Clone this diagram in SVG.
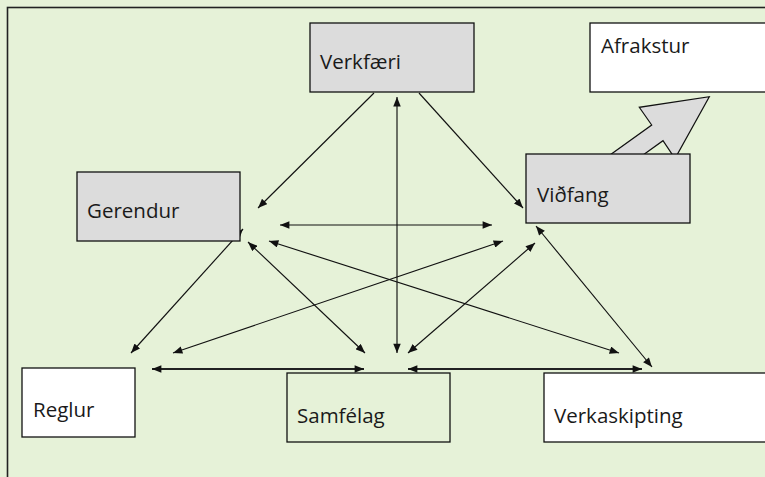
<svg xmlns="http://www.w3.org/2000/svg" width="765" height="477" viewBox="0 0 765 477">
<style>
.box{stroke:#111;stroke-width:1.3}
.gray{fill:#dcdcdc}
.white{fill:#ffffff}
.green{fill:#e6f2d8}
.lbl{font-family:"Open Sans","Noto Sans",sans-serif;font-size:20.5px;fill:#1a1a1a}
.c{stroke:#111;stroke-width:1.15;fill:none}
.b{stroke:#222;stroke-width:2;fill:none}
</style>
<defs>
<marker id="ah" viewBox="0 0 10 8" refX="10" refY="4" markerWidth="10" markerHeight="7.5" markerUnits="userSpaceOnUse" orient="auto-start-reverse">
<path d="M0,0 L10,4 L0,8 z" fill="#111"/>
</marker>
</defs>
<rect x="0" y="0" width="765" height="477" fill="#e6f2d8"/>
<rect x="7.5" y="7.5" width="800" height="500" fill="none" stroke="#222" stroke-width="1.6"/>
<g id="connectors">
<line class="c" x1="374" y1="93" x2="258" y2="208" marker-end="url(#ah)"/>
<line class="c" x1="419" y1="93" x2="523" y2="208" marker-end="url(#ah)"/>
<line class="c" x1="397" y1="97" x2="397" y2="353" marker-start="url(#ah)" marker-end="url(#ah)"/>
<line class="c" x1="280" y1="225" x2="492" y2="225" marker-start="url(#ah)" marker-end="url(#ah)"/>
<line class="c" x1="243" y1="229" x2="131" y2="353" marker-start="url(#ah)" marker-end="url(#ah)"/>
<line class="c" x1="503" y1="241" x2="173" y2="353" marker-start="url(#ah)" marker-end="url(#ah)"/>
<line class="c" x1="248" y1="242" x2="365" y2="353" marker-start="url(#ah)" marker-end="url(#ah)"/>
<line class="c" x1="535" y1="243" x2="408" y2="353" marker-start="url(#ah)" marker-end="url(#ah)"/>
<line class="c" x1="269" y1="241" x2="619" y2="353" marker-start="url(#ah)" marker-end="url(#ah)"/>
<line class="c" x1="536" y1="226" x2="652" y2="367" marker-start="url(#ah)" marker-end="url(#ah)"/>
<line class="b" x1="152" y1="369" x2="364" y2="369" marker-start="url(#ah)" marker-end="url(#ah)"/>
<line class="b" x1="408" y1="369" x2="642" y2="369" marker-start="url(#ah)" marker-end="url(#ah)"/>
</g>
<g id="block-arrow">
<polygon points="596,165 651.7,125 639.3,107.3 709.3,96.7 675,158.6 663,140.7 629.2,165" fill="#dcdcdc" stroke="#111" stroke-width="1.2" stroke-linejoin="miter"/>
</g>
<g id="verkfaeri">
<rect class="box gray" x="310" y="23" width="164" height="69"/>
<text class="lbl" x="320" y="69">Verkfæri</text>
</g>
<g id="afrakstur">
<rect class="box white" x="590" y="23" width="180" height="69"/>
<text class="lbl" x="601" y="53">Afrakstur</text>
</g>
<g id="gerendur">
<rect class="box gray" x="77" y="172" width="163" height="69"/>
<text class="lbl" x="87" y="218">Gerendur</text>
</g>
<g id="vidfang">
<rect class="box gray" x="526" y="154" width="164" height="69"/>
<text class="lbl" x="537" y="202">Viðfang</text>
</g>
<g id="reglur">
<rect class="box white" x="22" y="368" width="113" height="69"/>
<text class="lbl" x="33" y="417">Reglur</text>
</g>
<g id="samfelag">
<rect class="box green" x="287" y="373" width="163" height="69"/>
<text class="lbl" x="297" y="423">Samfélag</text>
</g>
<g id="verkaskipting">
<rect class="box white" x="544" y="373" width="226" height="69"/>
<text class="lbl" x="554" y="423">Verkaskipting</text>
</g>
</svg>
